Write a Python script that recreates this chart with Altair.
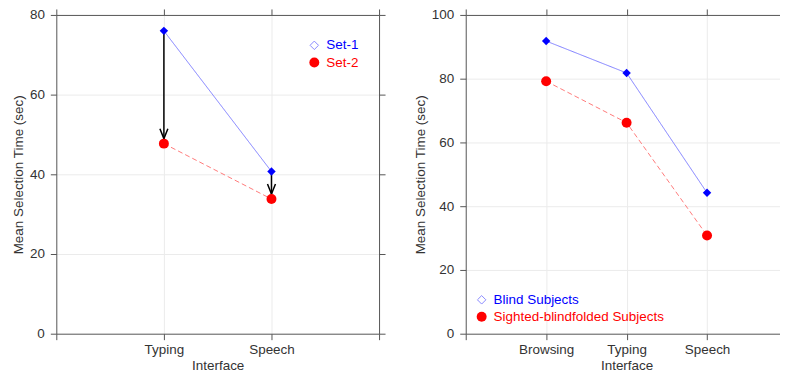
import altair as alt
import pandas as pd

FONT = "Liberation Sans"
AXIS_GRAY = "#555555"
TEXT_GRAY = "#333333"
GRID_GRAY = "#ebebeb"
FS = 13.5

# ---------------- data ----------------
left_categories = ["Typing", "Speech"]
left_series = ["Set-1", "Set-2"]
left_set1 = [76.0, 40.7]
left_set2 = [47.7, 33.8]
left_yticks = [0, 20, 40, 60, 80]

right_categories = ["Browsing", "Typing", "Speech"]
right_series = ["Blind Subjects", "Sighted-blindfolded Subjects"]
right_blind = [91.8, 81.8, 44.2]
right_sighted = [79.2, 66.2, 30.8]
right_yticks = [0, 20, 40, 60, 80, 100]

# ---------------- styles ----------------
marker_colors = ["#0000ff", "#ff0000"]
line_colors = ["#7b7bff", "#ff7b7b"]
shapes = ["diamond", "circle"]
sizes = [72, 100]
dashes = [[1, 0], [5, 3]]
legend_fill = [False, True]
legend_colors = ["#8a8aff", "#ff0000"]
legend_sizes = [72, 100]

H = 320


def build_panel(categories, series, values, yticks, legend_pos, width,
                arrows=False, right_axis=True):
    n = len(categories)
    xmax = n + 1
    ymax = yticks[-1]
    rows = []
    for s, vals in zip(series, values):
        for i, (c, v) in enumerate(zip(categories, vals)):
            rows.append({"series": s, "pos": i + 1, "cat": c, "value": v})
    df = pd.DataFrame(rows)

    xvals = list(range(0, xmax + 1))
    label_expr = "".join(
        f"datum.value == {i + 1} ? '{c}' : " for i, c in enumerate(categories)
    ) + "''"
    xs = alt.Scale(domain=[0, xmax], nice=False, zero=False)
    ys = alt.Scale(domain=[0, ymax], nice=False, zero=False)
    common = dict(
        domainColor=AXIS_GRAY, tickColor=AXIS_GRAY, tickSize=6, tickWidth=1,
        domainWidth=1, labelFont=FONT, labelFontSize=FS, labelColor=TEXT_GRAY,
        titleFont=FONT, titleFontSize=FS, titleColor=TEXT_GRAY,
        titleFontWeight="normal",
    )
    x_bottom = alt.Axis(
        orient="bottom", values=xvals, labelExpr=label_expr, title="Interface",
        labelPadding=3, titlePadding=2, grid=True, labelFlush=False,
        labelOverlap=False,
        gridColor={"condition": {"test": f"datum.value == 0 || datum.value == {xmax}",
                                 "value": "transparent"}, "value": GRID_GRAY},
        **common,
    )
    x_top = alt.Axis(orient="top", values=xvals, labels=False, title=None,
                     grid=False, **common)
    y_left = alt.Axis(
        orient="left", values=yticks, title="Mean Selection Time (sec)",
        labelPadding=6, titlePadding=4, grid=True, labelFlush=False,
        labelOverlap=False,
        gridColor={"condition": {"test": f"datum.value == 0 || datum.value == {ymax}",
                                 "value": "transparent"}, "value": GRID_GRAY},
        **common,
    )
    y_right = alt.Axis(orient="right", values=yticks, labels=False, title=None,
                       grid=False, **common)

    layers = []
    # lines
    for k, s in enumerate(series):
        d = df[df["series"] == s]
        layers.append(
            alt.Chart(d).mark_line(color=line_colors[k], strokeWidth=1,
                                   strokeDash=dashes[k]).encode(
                x=alt.X("pos:Q", scale=xs, axis=x_bottom if k == 0 else None),
                y=alt.Y("value:Q", scale=ys, axis=y_left if k == 0 else None),
            )
        )
    # arrows
    if arrows:
        adf = pd.DataFrame({
            "pos": list(range(1, n + 1)),
            "start": values[0],
            "end": values[1],
        })
        layers.append(
            alt.Chart(adf).mark_rule(color="black", strokeWidth=1.5).encode(
                x=alt.X("pos:Q", scale=xs, axis=None),
                y=alt.Y("start:Q", scale=ys, axis=None),
                y2="end:Q",
            )
        )
        layers.append(
            alt.Chart(adf).mark_point(
                shape="M-0.4,-1L0,0L0.4,-1", filled=False, color="black",
                strokeWidth=1.5, size=400, yOffset=-5, opacity=1,
            ).encode(
                x=alt.X("pos:Q", scale=xs, axis=None),
                y=alt.Y("end:Q", scale=ys, axis=None),
            )
        )
    # points
    for k, s in enumerate(series):
        d = df[df["series"] == s]
        y_axis = (y_right if right_axis else None) if k == 0 else None
        layers.append(
            alt.Chart(d).mark_point(filled=True, shape=shapes[k], size=sizes[k],
                                    color=marker_colors[k], opacity=1).encode(
                x=alt.X("pos:Q", scale=xs, axis=x_top if k == 0 else None),
                y=alt.Y("value:Q", scale=ys, axis=y_axis),
            )
        )
    # legend
    lx, ly, dy = legend_pos
    for k, s in enumerate(series):
        ld = pd.DataFrame({"label": [s]})
        layers.append(
            alt.Chart(ld).mark_point(shape=shapes[k], filled=legend_fill[k],
                                     color=legend_colors[k], size=legend_sizes[k],
                                     strokeWidth=1, opacity=1).encode(
                x=alt.value(lx), y=alt.value(ly + k * dy)
            )
        )
        layers.append(
            alt.Chart(ld).mark_text(align="left", baseline="middle", font=FONT,
                                    fontSize=FS, color=marker_colors[k]).encode(
                x=alt.value(lx + 12), y=alt.value(ly + k * dy), text="label:N"
            )
        )
    return alt.layer(*layers).resolve_axis(x="independent", y="independent").properties(
        width=width, height=H
    )


left = build_panel(left_categories, left_series, [left_set1, left_set2],
                   left_yticks, (259, 30.5, 17.3), 324, arrows=True)
right = build_panel(right_categories, right_series, [right_blind, right_sighted],
                    right_yticks, (16, 286, 17), 323, arrows=False,
                    right_axis=False)

chart = alt.hconcat(left, right, spacing=27).properties(
    padding={"left": 2.5, "top": -0.75, "right": -8.5, "bottom": 1},
    background="white",
).configure_view(stroke=None)

chart.save("out.html", embed_options={"renderer": "svg", "actions": False})
